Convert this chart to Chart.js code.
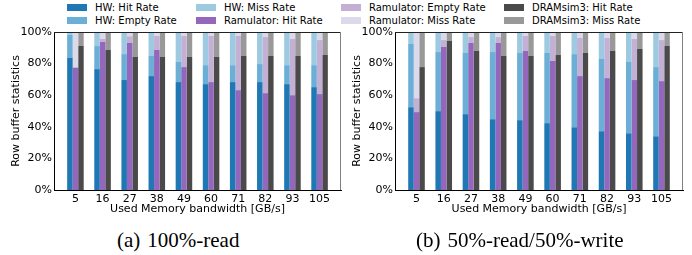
<!DOCTYPE html>
<html><head><meta charset="utf-8">
<script src="https://cdn.jsdelivr.net/npm/chart.js@4/dist/chart.umd.min.js"></script>
<style>
html,body{margin:0;padding:0;background:#fff;}
body{width:692px;height:255px;position:relative;overflow:hidden;font-family:"DejaVu Sans",sans-serif;}
#legend{position:absolute;left:0;top:0;width:692px;height:30px;font-family:"DejaVu Sans",sans-serif;font-size:10px;color:#000;}
.item{position:absolute;display:flex;align-items:center;white-space:nowrap;height:13px;line-height:13px;}
.sw{width:20px;height:7px;margin-right:8px;flex:none;}
.wrap{position:absolute;top:0;height:225px;}
#wa{left:0;width:346px;} #wb{left:341px;width:351px;}
.cap{position:absolute;top:230px;font-family:"Liberation Serif",serif;font-size:21px;line-height:21px;white-space:nowrap;color:#000;}
.cap span{margin-left:7px;}
</style></head>
<body>
<div id="legend"></div>
<div class="wrap" id="wa"><canvas id="ca" width="346" height="225"></canvas></div>
<div class="wrap" id="wb"><canvas id="cb" width="351" height="225"></canvas></div>
<div class="cap" style="left:117px">(a)<span>100%-read</span></div>
<div class="cap" style="left:416px">(b)<span>50%-read/50%-write</span></div>
<script>
// ---- data ----
const categories = ['5','16','27','38','49','60','71','82','93','105'];
const yTickLabels = ['0%','20%','40%','60%','80%','100%'];

// (a) 100%-read
const readHwHit    = [83.5, 76.5, 69.6, 72.1, 68.3, 67.0, 68.3, 68.3, 67.0, 65.1];
const readHwEmpty  = [14.7, 14.6, 16.4, 12.7, 12.7, 12.0, 10.7, 11.4, 12.0, 13.9];
const readHwMiss   = [1.8, 8.9, 14.0, 15.2, 19.0, 21.0, 21.0, 20.3, 21.0, 21.0];
const readRamHit   = [77.2, 93.7, 93.0, 88.6, 77.8, 68.3, 63.2, 61.3, 60.0, 60.7];
const readRamEmpty = [0.6, 1.9, 4.3, 8.9, 19.7, 29.2, 34.3, 35.5, 35.6, 34.2];
const readRamMiss  = [22.2, 4.4, 2.7, 2.5, 2.5, 2.5, 2.5, 3.2, 4.4, 5.1];
const readDrHit    = [91.1, 88.6, 84.1, 84.1, 84.1, 84.1, 84.8, 84.8, 84.8, 85.4];
const readDrMiss   = [8.9, 11.4, 15.9, 15.9, 15.9, 15.9, 15.2, 15.2, 15.2, 14.6];

// (b) 50%-read/50%-write
const mixHwHit    = [52.4, 49.9, 48.0, 44.8, 44.2, 42.3, 39.7, 37.2, 35.9, 34.0];
const mixHwEmpty  = [40.0, 37.4, 38.7, 42.5, 42.5, 44.4, 46.3, 45.7, 45.1, 43.8];
const mixHwMiss   = [7.6, 12.7, 13.3, 12.7, 13.3, 13.3, 14.0, 17.1, 19.0, 22.2];
const mixRamHit   = [49.3, 90.5, 93.0, 93.0, 87.9, 81.6, 72.1, 70.8, 69.6, 68.9];
const mixRamEmpty = [8.8, 4.4, 3.8, 3.8, 9.6, 15.9, 24.1, 25.4, 26.0, 26.0];
const mixRamMiss  = [41.9, 5.1, 3.2, 3.2, 2.5, 2.5, 3.8, 3.8, 4.4, 5.1];
const mixDrHit    = [77.8, 94.3, 87.9, 84.8, 84.8, 85.4, 86.7, 87.9, 89.2, 91.1];
const mixDrMiss   = [22.2, 5.7, 12.1, 15.2, 15.2, 14.6, 13.3, 12.1, 10.8, 8.9];

const seriesNames  = ['HW: Hit Rate','HW: Empty Rate','HW: Miss Rate','Ramulator: Hit Rate','Ramulator: Empty Rate','Ramulator: Miss Rate','DRAMsim3: Hit Rate','DRAMsim3: Miss Rate'];
const seriesStacks = ['HW','HW','HW','Ram','Ram','Ram','DR','DR'];
const seriesColors = ['#1f77b4','#6baed6','#9ecae1','#9467bd','#c5b0d5','#dadaeb','#4a4a4a','#999999'];

const readSeries = [readHwHit, readHwEmpty, readHwMiss, readRamHit, readRamEmpty, readRamMiss, readDrHit, readDrMiss];
const mixSeries  = [mixHwHit, mixHwEmpty, mixHwMiss, mixRamHit, mixRamEmpty, mixRamMiss, mixDrHit, mixDrMiss];

// ---- legend (HTML, column-major 4 columns x 2 rows) ----
const legendColLeft = [67, 196, 341, 504];
const legendRowTop = [1, 14];
const lg = document.getElementById('legend');
seriesNames.forEach((n,i)=>{
  const d = document.createElement('div'); d.className='item';
  d.style.left = legendColLeft[Math.floor(i/2)] + 'px';
  d.style.top = legendRowTop[i%2] + 'px';
  d.innerHTML = '<div class="sw" style="background:'+seriesColors[i]+'"></div><span>'+n+'</span>';
  lg.appendChild(d);
});

const FONT = {family:'DejaVu Sans', size:11};

const frame = {
  id:'frame',
  afterDraw(c){
    const {ctx, chartArea:a} = c;
    ctx.save();
    ctx.lineWidth = 1;
    ctx.strokeStyle = '#222';
    ctx.beginPath(); ctx.moveTo(a.left, a.top+0.5); ctx.lineTo(a.right, a.top+0.5); ctx.stroke();
    ctx.strokeStyle = '#808080';
    ctx.beginPath(); ctx.moveTo(a.right-0.5, a.top); ctx.lineTo(a.right-0.5, a.bottom); ctx.stroke();
    ctx.restore();
  }
};

function makeChart(id, series, padRight){
  const datasets = series.map((vals,i)=>({
    label: seriesNames[i],
    stack: seriesStacks[i],
    backgroundColor: seriesColors[i],
    borderWidth: 0,
    barPercentage: 1.0,
    categoryPercentage: 0.61,
    data: vals.map((v,j)=>({x:j, y:v}))
  }));
  return new Chart(document.getElementById(id), {
    type:'bar',
    data:{datasets},
    options:{
      responsive:false, animation:false, devicePixelRatio:1,
      layout:{padding:{top:32, right:padRight, bottom:0, left:0}},
      plugins:{legend:{display:false}, tooltip:{enabled:false}},
      scales:{
        x:{
          type:'linear', min:-0.79, max:9.79, stacked:true, offset:false,
          grid:{display:false, drawTicks:false},
          border:{display:true, color:'#000', width:1},
          afterBuildTicks: s => { s.ticks = categories.map((c,i)=>({value:i})); },
          afterFit: s => { s.height = 35; },
          ticks:{color:'#000', font:FONT, padding:3, maxRotation:0, autoSkip:false,
                 callback:(v)=> categories[v] !== undefined ? categories[v] : ''},
          title:{display:true, text:'Used Memory bandwidth [GB/s]', color:'#000', font:FONT, padding:{top:0, bottom:9.4}}
        },
        y:{
          stacked:true, min:0, max:100,
          grid:{display:false, drawTicks:false},
          border:{display:true, color:'#000', width:1},
          afterBuildTicks: s => { s.ticks = yTickLabels.map((t,i)=>({value:i*20})); },
          afterFit: s => { s.width = 54; },
          ticks:{color:'#000', font:FONT, padding:2, callback:(v,i)=> yTickLabels[i]},
          title:{display:true, text:'Row buffer statistics', color:'#000', font:FONT, padding:{top:9.4, bottom:0}}
        }
      }
    },
    plugins:[frame]
  });
}
makeChart('ca', readSeries, 5);
makeChart('cb', mixSeries, 9);
</script>
</body></html>
